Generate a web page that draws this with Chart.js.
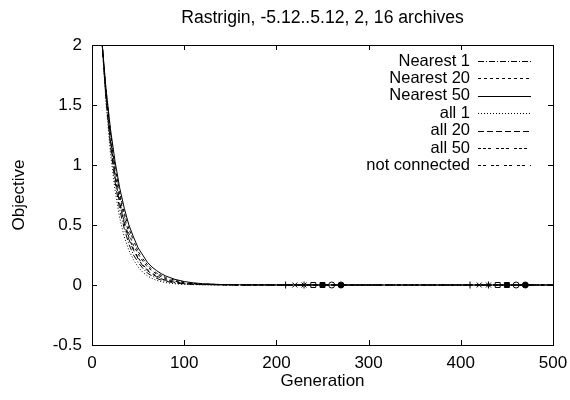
<!DOCTYPE html>
<html>
<head>
<meta charset="utf-8">
<script src="https://cdn.jsdelivr.net/npm/chart.js@4"></script>
<style>
  html, body { margin: 0; padding: 0; background: #fff; }
  #wrap { width: 570px; height: 400px; }
</style>
</head>
<body>
<div id="wrap"><canvas id="chart" width="570" height="400"></canvas></div>
<script>
// generaciones muestreadas
const gens = [0, 5, 10, 15, 20, 25, 30, 35, 40, 45, 50, 55, 60, 65, 70, 75, 80, 90, 100, 110, 120, 140, 160, 200, 300, 400, 500];

// valores por serie
const nearest1 = [3.89, 2.88, 2.12, 1.57, 1.16, 0.86, 0.63, 0.47, 0.34, 0.25, 0.19, 0.14, 0.10, 0.076, 0.056, 0.041, 0.031, 0.017, 0.009, 0.005, 0.003, 0.001, 0, 0, 0, 0, 0];
const nearest20 = [3.57, 2.74, 2.11, 1.62, 1.25, 0.96, 0.74, 0.57, 0.43, 0.33, 0.26, 0.20, 0.15, 0.12, 0.09, 0.069, 0.053, 0.031, 0.018, 0.011, 0.006, 0.002, 0.001, 0, 0, 0, 0];
const nearest50 = [3.38, 2.66, 2.10, 1.65, 1.30, 1.03, 0.81, 0.64, 0.50, 0.40, 0.31, 0.25, 0.19, 0.15, 0.12, 0.095, 0.075, 0.047, 0.029, 0.018, 0.011, 0.004, 0.002, 0.001, 0, 0, 0];
const all1 = [4.16, 2.98, 2.14, 1.53, 1.10, 0.79, 0.56, 0.40, 0.29, 0.21, 0.15, 0.107, 0.076, 0.055, 0.039, 0.028, 0.020, 0.010, 0.005, 0.003, 0.002, 0.001, 0, 0, 0, 0, 0];
const all20 = [3.75, 2.82, 2.12, 1.59, 1.20, 0.90, 0.68, 0.51, 0.38, 0.29, 0.22, 0.16, 0.12, 0.092, 0.069, 0.052, 0.039, 0.022, 0.012, 0.007, 0.004, 0.002, 0, 0, 0, 0, 0];
const all50 = [3.47, 2.70, 2.10, 1.64, 1.28, 0.99, 0.77, 0.60, 0.47, 0.37, 0.28, 0.22, 0.17, 0.13, 0.10, 0.082, 0.063, 0.039, 0.023, 0.014, 0.009, 0.003, 0.001, 0, 0, 0, 0];
const notConnected = [3.69, 2.79, 2.11, 1.60, 1.21, 0.92, 0.70, 0.53, 0.40, 0.30, 0.23, 0.17, 0.13, 0.10, 0.075, 0.057, 0.043, 0.025, 0.014, 0.008, 0.005, 0.002, 0, 0, 0, 0, 0];

const seriesNames = ["Nearest 1", "Nearest 20", "Nearest 50", "all 1", "all 20", "all 50", "not connected"];
const seriesValues = [nearest1, nearest20, nearest50, all1, all20, all50, notConnected];

// posiciones de los marcadores (generacion) por serie
const markerGens = [[210, 410], [220, 420], [230, 430], [240, 440], [250, 450], [260, 460], [270, 470]];

const xTicks = [0, 100, 200, 300, 400, 500];
const yTicks = [-0.5, 0, 0.5, 1, 1.5, 2];

const titleText = "Rastrigin, -5.12..5.12, 2, 16 archives";

const dashes = [[6, 2, 1, 2], [3, 3], [], [1, 2], [6, 3], [3, 2, 3, 2, 3, 5], [3, 2, 3, 5]];
const markerStyles = ["cross", "crossRot", "star", "rect", "rect", "circle", "circle"];
const markerFilled = [false, false, false, false, true, false, true];

const FONT = "'Liberation Sans', Arial, Helvetica, sans-serif";

const lineSets = seriesNames.map((name, i) => ({
  label: name,
  data: gens.map((g, k) => ({ x: g, y: seriesValues[i][k] })),
  borderColor: "#000",
  borderWidth: 1,
  borderDash: dashes[i],
  pointRadius: 0,
  fill: false,
  tension: 0,
}));

const markerSets = seriesNames.map((name, i) => ({
  label: name + " pts",
  data: markerGens[i].map((g) => ({ x: g, y: 0 })),
  showLine: false,
  pointStyle: markerStyles[i],
  pointRadius: markerStyles[i] === "circle" ? 3 : 3.5,
  borderColor: "#000",
  backgroundColor: markerFilled[i] ? "#000" : "#fff",
  borderWidth: 1,
}));

// marco, ticks hacia adentro, titulo y leyenda (estilo gnuplot)
const frame = {
  id: "frame",
  afterDatasetsDraw(chart) {
    const { ctx, chartArea: a, scales } = chart;
    ctx.save();
    ctx.strokeStyle = "#000";
    ctx.lineWidth = 1;
    ctx.setLineDash([]);
    ctx.strokeRect(Math.round(a.left) + 0.5, Math.round(a.top) + 0.5, Math.round(a.right - a.left), Math.round(a.bottom - a.top));
    const len = 5;
    ctx.beginPath();
    xTicks.forEach((v) => {
      const x = Math.round(scales.x.getPixelForValue(v)) + 0.5;
      ctx.moveTo(x, a.bottom); ctx.lineTo(x, a.bottom - len);
      ctx.moveTo(x, a.top); ctx.lineTo(x, a.top + len);
    });
    yTicks.forEach((v) => {
      const y = Math.round(scales.y.getPixelForValue(v)) + 0.5;
      ctx.moveTo(a.left, y); ctx.lineTo(a.left + len, y);
      ctx.moveTo(a.right, y); ctx.lineTo(a.right - len, y);
    });
    ctx.stroke();

    ctx.fillStyle = "#000";
    ctx.textBaseline = "middle";

    // titulo centrado sobre el area de trazado
    ctx.font = "17.6px " + FONT;
    ctx.textAlign = "center";
    ctx.fillText(titleText, (a.left + a.right) / 2, 18);

    // leyenda: texto a la derecha con muestra de linea
    ctx.font = "16.5px " + FONT;
    ctx.textAlign = "right";
    seriesNames.forEach((name, i) => {
      const y = 61 + i * 17.4;
      ctx.fillText(name, 470, y);
      ctx.beginPath();
      ctx.setLineDash(dashes[i]);
      ctx.moveTo(478, Math.round(y) + 0.5);
      ctx.lineTo(531, Math.round(y) + 0.5);
      ctx.stroke();
    });
    ctx.restore();
  },
};

const ctx = document.getElementById("chart").getContext("2d");
new Chart(ctx, {
  type: "line",
  data: { datasets: [...lineSets, ...markerSets] },
  options: {
    responsive: false,
    animation: false,
    layout: { padding: { left: 0, right: 17, top: 45, bottom: 0 } },
    plugins: {
      legend: { display: false },
      tooltip: { enabled: false },
      title: { display: false },
    },
    scales: {
      x: {
        type: "linear",
        min: 0,
        max: 500,
        afterBuildTicks: (s) => { s.ticks = xTicks.map((v) => ({ value: v })); },
        afterFit: (s) => { s.height = 55; s.paddingLeft = 0; s.paddingRight = 0; },
        grid: { display: false, drawTicks: false },
        border: { display: false },
        ticks: { color: "#000", font: { family: FONT, size: 17 }, padding: 8, maxRotation: 0, callback: (v) => String(v) },
        title: {
          display: true,
          text: "Generation",
          color: "#000",
          font: { family: FONT, size: 17 },
          padding: { top: 0, bottom: 8 },
        },
      },
      y: {
        min: -0.5,
        max: 2,
        afterBuildTicks: (s) => { s.ticks = yTicks.map((v) => ({ value: v })); },
        afterFit: (s) => { s.width = 92; s.paddingTop = 0; s.paddingBottom = 0; },
        grid: { display: false, drawTicks: false },
        border: { display: false },
        ticks: { color: "#000", font: { family: FONT, size: 17 }, padding: 10, callback: (v) => String(v) },
        title: {
          display: true,
          text: "Objective",
          color: "#000",
          font: { family: FONT, size: 17 },
          padding: { top: 9, bottom: 0 },
        },
      },
    },
  },
  plugins: [frame],
});
</script>
</body>
</html>
